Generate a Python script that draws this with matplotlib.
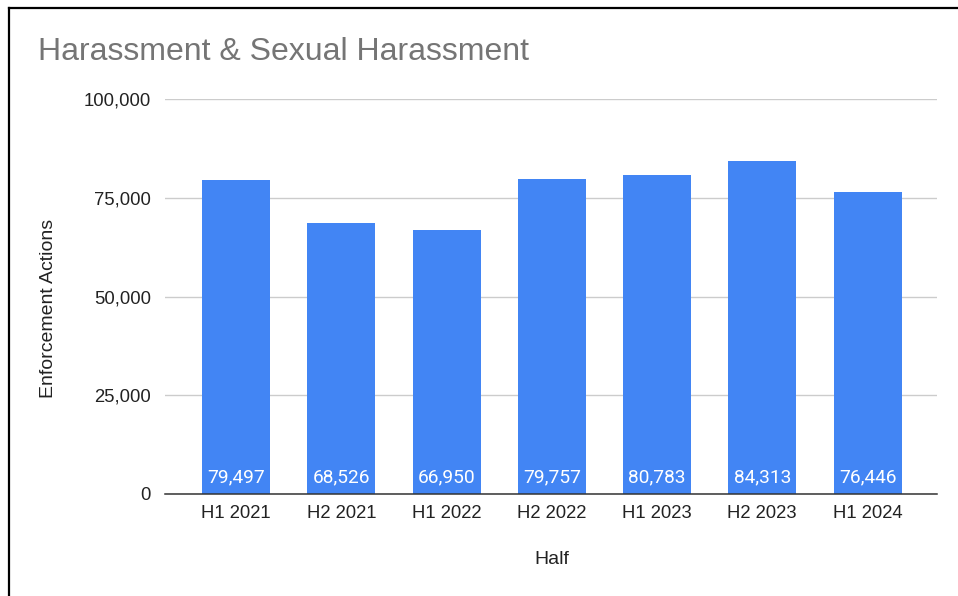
import matplotlib.pyplot as plt
from matplotlib.lines import Line2D

halves = ["H1 2021", "H2 2021", "H1 2022", "H2 2022", "H1 2023", "H2 2023", "H1 2024"]
actions = [79497, 68526, 66950, 79757, 80783, 84313, 76446]
yticks = [0, 25000, 50000, 75000, 100000]

W, H = 958, 596
fig = plt.figure(figsize=(W / 100, H / 100), dpi=100)
ax = fig.add_axes([165 / W, 102 / H, (937 - 165) / W, (494 - 99) / H])

x = range(len(halves))
bars = ax.bar(x, actions, width=0.646, color="#4285F4", zorder=3)
for rect, v in zip(bars, actions):
    ax.text(rect.get_x() + rect.get_width() / 2, 4200, f"{v:,}",
            ha="center", va="center", color="white", fontsize=13.8,
            family="Roboto", zorder=4)

ax.set_xlim(-0.675, 6.66)
ax.set_ylim(0, 100000)
ax.set_yticks(yticks)
ax.set_yticklabels([f"{t:,}" for t in yticks])
ax.set_xticks(list(x))
ax.set_xticklabels(halves)
ax.tick_params(axis="both", length=0, labelsize=13.3, colors="#222222")
ax.tick_params(axis="y", pad=10)
ax.tick_params(axis="x", pad=8)
for lbl in ax.get_xticklabels() + ax.get_yticklabels():
    lbl.set_family("Liberation Sans")

ax.grid(axis="y", color="#cccccc", linewidth=1, zorder=0)
for s in ["top", "right", "left"]:
    ax.spines[s].set_visible(False)
ax.spines["bottom"].set_color("#333333")
ax.spines["bottom"].set_linewidth(1.1)
ax.spines["bottom"].set_zorder(5)

ax.set_ylabel("Enforcement Actions", fontsize=14, family="Liberation Sans",
              color="#222222", labelpad=0)
ax.yaxis.set_label_coords(-108 / 772, 0.47)
ax.set_xlabel("Half", fontsize=14, family="Liberation Sans", color="#222222")
ax.xaxis.set_label_coords((552 - 165) / 772, -(551 - 494) / 395)

fig.text(38 / W, 1 - 52 / H, "Harassment & Sexual Harassment", fontsize=23,
         family="Liberation Sans", color="#757575", va="center", ha="left")

# frame edges along top and left
fig.add_artist(Line2D([9 / W, 9 / W], [0, 1 - 8 / H], transform=fig.transFigure,
                      color="black", linewidth=1.6))
fig.add_artist(Line2D([9 / W, 1], [1 - 8 / H, 1 - 8 / H], transform=fig.transFigure,
                      color="black", linewidth=1.6))

fig.savefig("out.png", dpi=100, facecolor="white")
